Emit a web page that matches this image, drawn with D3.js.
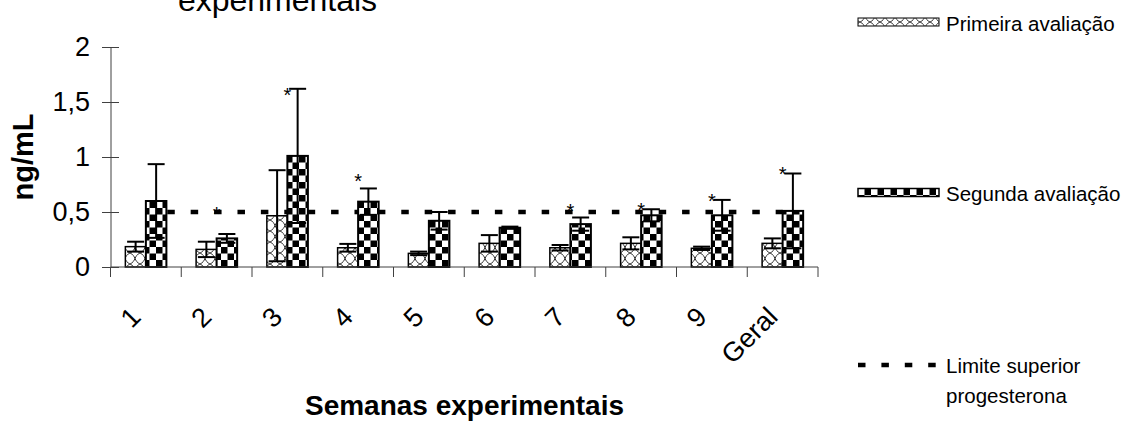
<!DOCTYPE html>
<html>
<head>
<meta charset="utf-8">
<script src="https://cdn.jsdelivr.net/npm/d3@7"></script>
<style>
  html, body { margin: 0; padding: 0; background: #fff; }
  svg { display: block; font-family: "Liberation Sans", Arial, sans-serif; }
</style>
</head>
<body>
<script>
// Progesterona (ng/mL) por semana experimental
const categories = ["1", "2", "3", "4", "5", "6", "7", "8", "9", "Geral"];
const primeira = [0.185, 0.16, 0.466, 0.175, 0.124, 0.215, 0.175, 0.215, 0.17, 0.215];
const primeiraErro = [0.045, 0.07, 0.414, 0.035, 0.016, 0.075, 0.025, 0.055, 0.015, 0.045];
const segunda = [0.60, 0.26, 1.01, 0.594, 0.42, 0.357, 0.39, 0.47, 0.47, 0.51];
const segundaErro = [0.335, 0.04, 0.61, 0.12, 0.08, 0.01, 0.06, 0.055, 0.14, 0.34];
const limite = 0.5;
// nível (ng/mL) onde fica o asterisco de cada semana; null = sem diferença
const asteriscos = [null, 0.52, 1.6, 0.82, null, null, 0.545, 0.555, 0.636, 0.89];
const yTicks = [0, 0.5, 1, 1.5, 2];
const yTickLabels = ["0", "0,5", "1", "1,5", "2"];
const seriesNames = ["Primeira avaliação", "Segunda avaliação"];
const limiteLabel = ["Limite superior", "progesterona"];

const W = 1125, H = 421;
const svg = d3.select("body").append("svg").attr("width", W).attr("height", H);
svg.append("rect").attr("width", W).attr("height", H).attr("fill", "#fff");

// padrões de preenchimento
const defs = svg.append("defs");
const onda = defs.append("pattern").attr("id", "onda")
  .attr("patternUnits", "userSpaceOnUse").attr("width", 10).attr("height", 11);
onda.append("rect").attr("width", 10).attr("height", 11).attr("fill", "#fff");
onda.append("path")
  .attr("d", "M0,0 C6,2.5 4,8.5 10,11 M10,0 C4,2.5 6,8.5 0,11")
  .attr("fill", "none").attr("stroke", "#333").attr("stroke-width", 1);

const xadrez = defs.append("pattern").attr("id", "xadrez")
  .attr("patternUnits", "userSpaceOnUse").attr("width", 13).attr("height", 13);
xadrez.append("rect").attr("width", 13).attr("height", 13).attr("fill", "#fff");
xadrez.append("rect").attr("width", 6.5).attr("height", 6.5).attr("fill", "#000");
xadrez.append("rect").attr("x", 6.5).attr("y", 6.5).attr("width", 6.5).attr("height", 6.5).attr("fill", "#000");

// escalas
const x = d3.scaleBand().domain(categories).range([110.5, 818])
  .paddingInner(0.42).paddingOuter(0.21);
const xs = d3.scaleBand().domain([0, 1]).range([0, x.bandwidth()]);
const y = d3.scaleLinear().domain([0, 2]).range([267, 47]);

const fills = ["url(#onda)", "url(#xadrez)"];
const strokeW = [1.5, 2];
const values = [primeira, segunda];
const errors = [primeiraErro, segundaErro];

// linha do limite superior
const dash = "7.5 15.9";
svg.append("path")
  .datum(categories.map(c => ({ c, v: limite })))
  .attr("d", d3.line().x(d => x(d.c) + x.bandwidth() / 2).y(d => y(d.v)))
  .attr("fill", "none").attr("stroke", "#000").attr("stroke-width", 4.5)
  .attr("stroke-dasharray", dash).attr("stroke-dashoffset", 2);

// barras
values.forEach((vals, s) => {
  svg.append("g").selectAll("rect").data(vals).join("rect")
    .attr("x", (d, i) => x(categories[i]) + xs(s))
    .attr("y", d => y(d))
    .attr("width", xs.bandwidth())
    .attr("height", d => y(0) - y(d))
    .attr("fill", fills[s])
    .attr("stroke", "#000").attr("stroke-width", strokeW[s]);
});

// barras de erro
values.forEach((vals, s) => {
  const g = svg.append("g").attr("stroke", "#000").attr("stroke-width", 2);
  vals.forEach((v, i) => {
    const cx = x(categories[i]) + xs(s) + xs.bandwidth() / 2;
    const lo = y(Math.max(0, v - errors[s][i]));
    const hi = y(v + errors[s][i]);
    g.append("line").attr("x1", cx).attr("x2", cx).attr("y1", lo).attr("y2", hi);
    g.append("line").attr("x1", cx - 8.5).attr("x2", cx + 8.5).attr("y1", hi).attr("y2", hi);
    g.append("line").attr("x1", cx - 8.5).attr("x2", cx + 8.5).attr("y1", lo).attr("y2", lo);
  });
});

// asteriscos
svg.append("g").selectAll("text")
  .data(asteriscos.map((v, i) => ({ v, c: categories[i] })).filter(d => d.v !== null))
  .join("text")
  .attr("x", d => x(d.c) + x.bandwidth() / 2)
  .attr("y", d => y(d.v) + 11.4)
  .attr("text-anchor", "middle")
  .attr("font-size", 20).attr("fill", "#000")
  .text("*");

// eixo Y
const yAxis = svg.append("g").attr("transform", "translate(110.5,0)")
  .call(d3.axisLeft(y).tickValues(yTicks).tickFormat((d, i) => yTickLabels[i])
    .tickSizeInner(8.5).tickSizeOuter(0).tickPadding(12));
yAxis.select(".domain").attr("stroke", "#404040");
yAxis.selectAll(".tick line").attr("x1", 8.5).attr("stroke", "#404040");
yAxis.selectAll(".tick text").attr("font-size", 27).attr("fill", "#000")
  .attr("font-family", "'Liberation Sans', Arial, sans-serif");

// eixo X
const xAxisG = svg.append("g");
xAxisG.append("line")
  .attr("x1", x.range()[0]).attr("x2", x.range()[1])
  .attr("y1", y(0)).attr("y2", y(0))
  .attr("stroke", "#404040");
const gap = (x.step() - x.bandwidth()) / 2;
const bounds = categories.map(c => x(c) - gap).concat([x(categories[categories.length - 1]) + x.bandwidth() + gap]);
xAxisG.selectAll("line.tk").data(bounds).join("line").attr("class", "tk")
  .attr("x1", d => d).attr("x2", d => d)
  .attr("y1", y(0)).attr("y2", y(0) + 10)
  .attr("stroke", "#404040");
xAxisG.selectAll("text").data(categories).join("text")
  .attr("transform", c => `translate(${x(c) + x.bandwidth() / 2 - 3.5},318.5) rotate(-45)`)
  .attr("text-anchor", "end")
  .attr("font-size", 27).attr("fill", "#000")
  .text(c => c);

// títulos
svg.append("text").attr("x", 277.5).attr("y", 10.5).attr("text-anchor", "middle")
  .attr("font-size", 32).text("experimentais");
svg.append("text").attr("x", 464.5).attr("y", 415).attr("text-anchor", "middle")
  .attr("font-size", 28).attr("font-weight", "bold").text("Semanas experimentais");
svg.append("text").attr("transform", "translate(33,157) rotate(-90)")
  .attr("text-anchor", "middle")
  .attr("font-size", 29).attr("font-weight", "bold").text("ng/mL");

// legenda
const leg = svg.append("g");
const legY = [22, 192.5];
seriesNames.forEach((name, s) => {
  leg.append("rect").attr("x", 858).attr("y", legY[s] - 4).attr("width", 81).attr("height", 8)
    .attr("fill", fills[s]).attr("stroke", "#000").attr("stroke-width", s === 0 ? 1 : 1.5);
  leg.append("text").attr("x", 946).attr("y", legY[s] + 8.5)
    .attr("font-size", 20.5).text(name);
});
leg.append("line").attr("x1", 858).attr("x2", 938).attr("y1", 365).attr("y2", 365)
  .attr("stroke", "#000").attr("stroke-width", 4.5).attr("stroke-dasharray", dash);
limiteLabel.forEach((t, i) => {
  leg.append("text").attr("x", 946).attr("y", 373 + i * 30)
    .attr("font-size", 20.5).text(t);
});
</script>
</body>
</html>
